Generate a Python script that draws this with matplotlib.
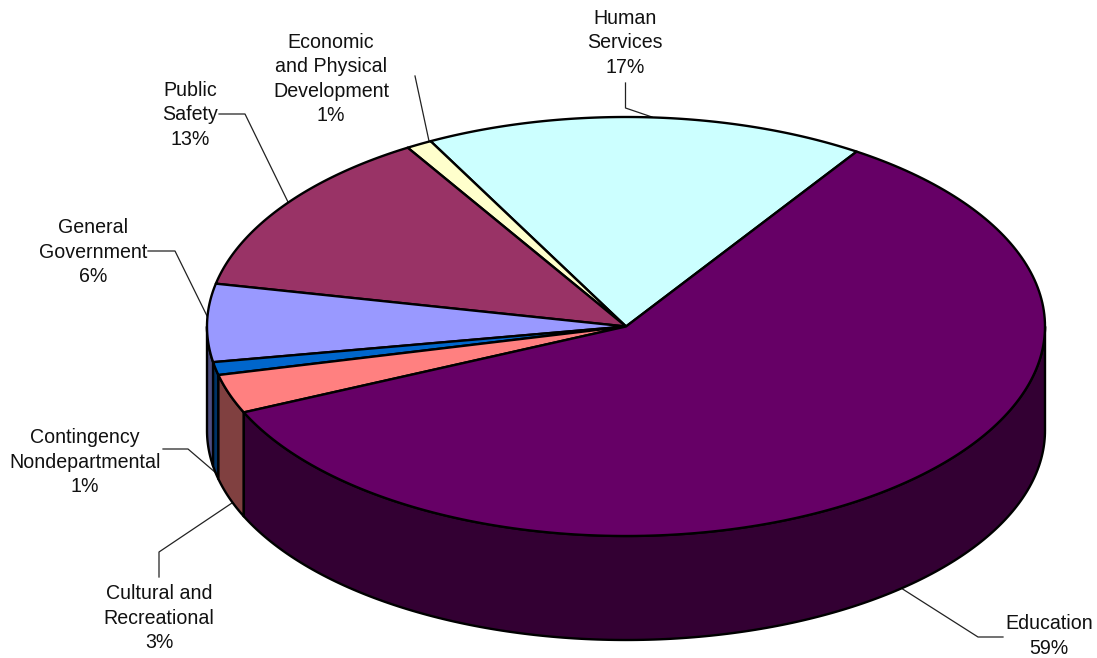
import numpy as np
import matplotlib
matplotlib.use("Agg")
import matplotlib.pyplot as plt
from matplotlib.patches import Polygon

plt.rcParams['font.family'] = ['Liberation Sans', 'DejaVu Sans']

# slices run counter-clockwise from the top right
names = ["Human\nServices", "Economic\nand Physical\nDevelopment", "Public\nSafety",
         "General\nGovernment", "Contingency\nNondepartmental", "Cultural and\nRecreational",
         "Education"]
percent = [17, 1, 13, 6, 1, 3, 59]
top_colors = ["#CCFFFF", "#FFFFCC", "#993366", "#9999FF", "#0066CC", "#FF8080", "#660066"]
side_colors = ["#668080", "#808066", "#4D1933", "#4D4D80", "#003366", "#804040", "#330033"]

# pie geometry in pixels
cx, cy = 626, 326.5
rx, ry = 419, 209.5
depth = 104
start = 56.6

# label centre and leader line for each slice
label_pos = [(625, 43), (331, 79), (190, 115), (93, 252), (85, 462), (159, 618), (1049, 636)]
leaders = [
    [(625.5, 83), (625.5, 108), (652, 117)],
    [(415, 76), (429, 141)],
    [(219, 114), (245, 114), (288, 202)],
    [(148, 251), (175, 251), (210, 322)],
    [(163, 449), (188, 449), (216, 473)],
    [(159, 577), (159, 552), (232, 503)],
    [(1003, 637), (978, 637), (901, 588)],
]


def arc(a0, a1, dy=0):
    t = np.radians(np.linspace(a0, a1, 200))
    return np.column_stack([cx + rx * np.cos(t), cy - ry * np.sin(t) + dy])


fig = plt.figure(figsize=(10.97, 6.58), dpi=100)
ax = fig.add_axes([0, 0, 1, 1])
ax.set_xlim(0, 1097)
ax.set_ylim(658, 0)
ax.axis('off')

for pts in leaders:
    xs, ys = zip(*pts)
    ax.plot(xs, ys, color='#222222', lw=0.9, zorder=1)

edges = start + np.concatenate([[0], np.cumsum(percent)]) * 3.6

# outer wall, only the front half of the ellipse shows
for i in range(len(percent)):
    a0, a1 = edges[i], edges[i + 1]
    lo, hi = max(a0, 180), min(a1, 360)
    if hi > lo:
        wall = np.vstack([arc(lo, hi), arc(hi, lo, depth)])
        ax.add_patch(Polygon(wall, closed=True, fc=side_colors[i], ec='black',
                             lw=1.7, joinstyle='round', zorder=2))

for i in range(len(percent)):
    outline = np.vstack([[(cx, cy)], arc(edges[i], edges[i + 1])])
    ax.add_patch(Polygon(outline, closed=True, fc=top_colors[i], ec='black',
                         lw=1.7, joinstyle='round', zorder=3))

for name, p, (x, y) in zip(names, percent, label_pos):
    ax.text(x, y, f"{name}\n{p}%", ha='center', va='center', fontsize=14.1,
            linespacing=1.35, color='#111111', zorder=4)

fig.savefig("out.png", dpi=100, facecolor='white')
